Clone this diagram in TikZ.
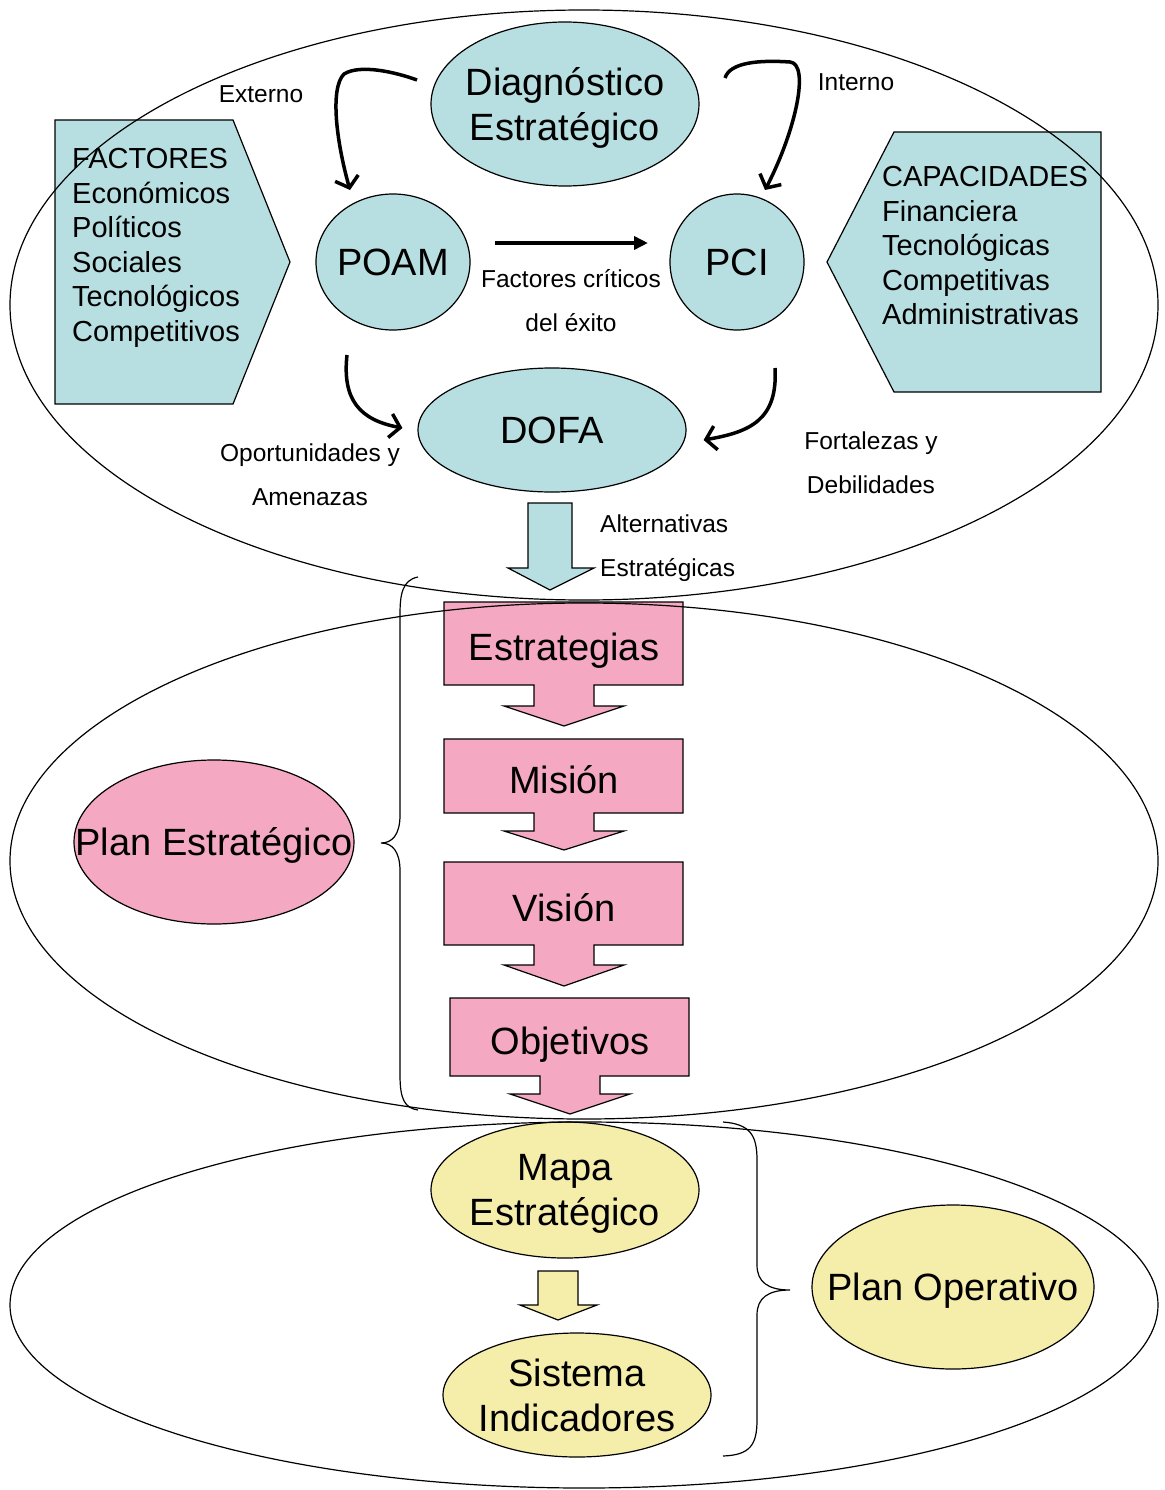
\documentclass[tikz,border=0pt]{standalone}
\usepackage{fontspec}
\setmainfont{Liberation Sans}
\usetikzlibrary{shapes.geometric,arrows.meta,calc}
\definecolor{cblue}{RGB}{183,222,224}
\definecolor{cpink}{RGB}{244,168,194}
\definecolor{cyell}{RGB}{245,237,170}
\begin{document}
\begin{tikzpicture}[x=1pt,y=-1pt,
  bigfont/.style={font=\fontsize{38}{45}\selectfont, text depth=0pt},
  listfont/.style={font=\fontsize{29}{34.6}\selectfont},
  lbl/.style={font=\fontsize{24.5}{44}\selectfont, inner sep=0},
  ovalnode/.style={ellipse, draw, line width=1.2pt, inner xsep=-60pt, inner ysep=-20pt, align=center, bigfont},
  shapeline/.style={draw, line width=1.2pt},
  curvarrow/.style={line width=3.5pt, -{Straight Barb[length=10pt,width=24pt]}},
  straightarrow/.style={line width=3.5pt, -{Triangle[length=14pt,width=13pt]}},
  bracestyle/.style={line width=1.2pt},
  bigoval/.style={line width=1.2pt}
]
\useasboundingbox (0,0) rectangle (1164,1490);
% pentagons
\path[shapeline, fill=cblue] (55,120) -- (233,120) -- (290,262) -- (233,404) -- (55,404) -- cycle;
\path[shapeline, fill=cblue] (1101,132) -- (894,132) -- (827,262) -- (894,392) -- (1101,392) -- cycle;
\node[listfont, align=left, anchor=north west, inner sep=0] (factores) at (72,148)
  {FACTORES\\Económicos\\Políticos\\Sociales\\Tecnológicos\\Competitivos};
\node[listfont, align=left, anchor=north west, inner sep=0] (capac) at (882,166)
  {CAPACIDADES\\Financiera\\Tecnológicas\\Competitivas\\Administrativas};
% ovals
\node[ovalnode, fill=cblue, minimum width=268, minimum height=164] (diag) at (565,104) {Diagnóstico\\Estratégico};
\node[ovalnode, fill=cblue, minimum width=154, minimum height=136] (poam) at (393,262) {POAM};
\node[ovalnode, fill=cblue, minimum width=134, minimum height=136] (pci) at (737,262) {PCI};
\node[ovalnode, fill=cblue, minimum width=268, minimum height=124] (dofa) at (552,430) {DOFA};
\node[ovalnode, fill=cpink, minimum width=280, minimum height=164] (plane) at (214,842) {Plan Estratégico};
\node[ovalnode, fill=cyell, minimum width=268, minimum height=136] (mapa) at (565,1190) {Mapa\\Estratégico};
\node[ovalnode, fill=cyell, minimum width=268, minimum height=124] (sist) at (577,1395) {Sistema\\Indicadores};
\node[ovalnode, fill=cyell, minimum width=282, minimum height=164] (planop) at (953,1287) {Plan Operativo};
% block arrows
\path[shapeline, fill=cblue] (528,503) -- (572,503) -- (572,568) -- (594,568) -- (550,590) -- (508,568) -- (528,568) -- cycle;
\path[shapeline, fill=cpink] (444,602) -- (683,602) -- (683,685) -- (594,685) -- (594,706) -- (624,706) -- (564,726) -- (504,706) -- (534,706) -- (534,685) -- (444,685) -- cycle;
\path[shapeline, fill=cpink] (444,739) -- (683,739) -- (683,813) -- (594,813) -- (594,831) -- (624,831) -- (564,850) -- (504,831) -- (534,831) -- (534,813) -- (444,813) -- cycle;
\path[shapeline, fill=cpink] (444,862) -- (683,862) -- (683,945) -- (594,945) -- (594,965) -- (624,965) -- (564,986) -- (504,965) -- (534,965) -- (534,945) -- (444,945) -- cycle;
\path[shapeline, fill=cpink] (450,998) -- (689,998) -- (689,1076) -- (600,1076) -- (600,1094) -- (630,1094) -- (570,1114) -- (510,1094) -- (540,1094) -- (540,1076) -- (450,1076) -- cycle;
\path[shapeline, fill=cyell] (538,1271) -- (578,1271) -- (578,1305) -- (597,1305) -- (558,1320) -- (520,1305) -- (538,1305) -- cycle;
\node[bigfont, inner sep=0] (estr) at (564,647) {Estrategias};
\node[bigfont, inner sep=0] (mision) at (564,780) {Misión};
\node[bigfont, inner sep=0] (vision) at (564,907) {Visión};
\node[bigfont, inner sep=0] (obj) at (570,1041) {Objetivos};
% labels
\node[lbl] (ext) at (261,94) {Externo};
\node[lbl] (int) at (856,82) {Interno};
\node[lbl, align=center] (fce) at (571,301) {Factores críticos\\del éxito};
\node[lbl, align=center] (oa) at (310,475) {Oportunidades y\\Amenazas};
\node[lbl, align=center] (fd) at (871,463) {Fortalezas y\\Debilidades};
\node[lbl, align=left, anchor=west] (alt) at (600,548) {Alternativas\\Estratégicas};
% arrows
\draw[curvarrow] ($(diag.center)+(-148,-24)$) .. controls (395,72) and (360,64) .. (344,74) .. controls (330,88) and (336,140) .. ($(poam.center)+(-43,-72)$);
\draw[curvarrow] ($(diag.center)+(160,-26)$) .. controls (730,62) and (760,60) .. (790,62) .. controls (810,64) and (796,130) .. ($(pci.center)+(28,-72)$);
\draw[straightarrow] ($(poam.center)+(102,-19)$) -- ($(pci.center)+(-89,-19)$);
\draw[curvarrow] ($(poam.center)+(-46,93)$) .. controls (342,400) and (360,420) .. ($(dofa.west)+(-15,-2)$);
\draw[curvarrow] ($(pci.center)+(38,106)$) .. controls (778,420) and (750,432) .. ($(dofa.east)+(17,10)$);
% braces
\draw[bracestyle] (418,577) .. controls (402,580) and (400,595) .. (400,615) -- (400,815) .. controls (400,835) and (392,843) .. (381,843) .. controls (392,843) and (400,851) .. (400,871) -- (400,1075) .. controls (400,1100) and (405,1108) .. (418,1110);
\draw[bracestyle] (723,1122) .. controls (750,1124) and (757,1135) .. (757,1160) -- (757,1265) .. controls (757,1282) and (768,1290) .. (790,1290) .. controls (768,1290) and (757,1298) .. (757,1315) -- (757,1420) .. controls (757,1445) and (750,1455) .. (723,1456);
% big ellipses
\draw[bigoval] (584,305) ellipse [x radius=574, y radius=295];
\draw[bigoval] (584,861) ellipse [x radius=574, y radius=258];
\draw[bigoval] (584,1305) ellipse [x radius=574, y radius=183];
\end{tikzpicture}
\end{document}
